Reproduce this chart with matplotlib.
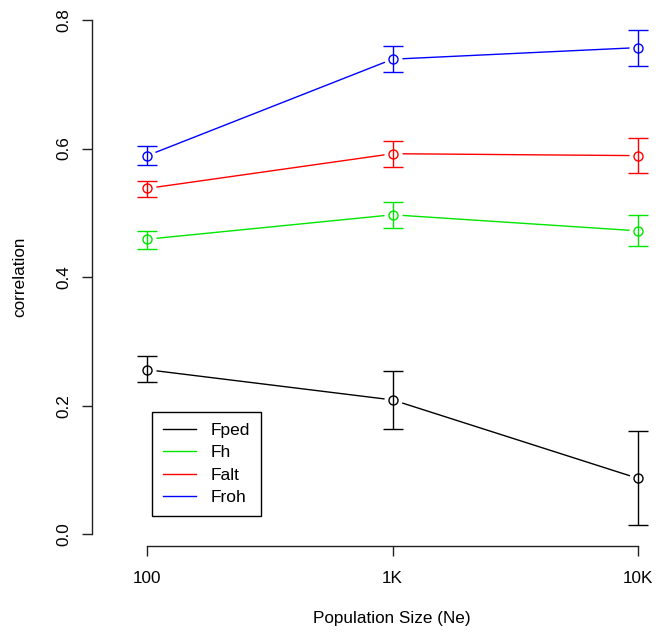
import matplotlib
matplotlib.use('Agg')
import matplotlib.pyplot as plt

plt.rcParams['font.family'] = ['Liberation Sans', 'DejaVu Sans']

# data
sizes = ['100', '1K', '10K']
series = ['Fped', 'Fh', 'Falt', 'Froh']
colors = ['black', '#00e600', 'red', 'blue']

fped = [0.256, 0.209, 0.087]
fped_lo = [0.237, 0.164, 0.014]
fped_hi = [0.277, 0.254, 0.161]

fh = [0.459, 0.497, 0.472]
fh_lo = [0.444, 0.477, 0.448]
fh_hi = [0.472, 0.517, 0.496]

falt = [0.538, 0.592, 0.589]
falt_lo = [0.525, 0.572, 0.562]
falt_hi = [0.550, 0.612, 0.617]

froh = [0.589, 0.739, 0.757]
froh_lo = [0.575, 0.719, 0.729]
froh_hi = [0.604, 0.759, 0.784]

means = [fped, fh, falt, froh]
lows = [fped_lo, fh_lo, falt_lo, froh_lo]
highs = [fped_hi, fh_hi, falt_hi, froh_hi]

W, H = 666, 632
fig = plt.figure(figsize=(W / 100, H / 100), dpi=100)
# axes box in pixels: left 92, bottom line at y=546, top at y=8, right at 660
ax = fig.add_axes([92 / W, 1 - 546 / H, (660 - 92) / W, (546 - 8) / H])

x = [1, 2, 3]
ax.set_xlim(1 - (147.3 - 92) / 245.5, 3 + (660 - 638) / 245.5)
ax.set_ylim((534.3 - 546) / 642.9, (534.3 - 8) / 642.9)

for name, m, lo, hi, c in zip(series, means, lows, highs, colors):
    ax.plot(x, m, color=c, lw=1, zorder=1, label=name)
    # white halo leaves the gap R's type="b" puts around each point
    ax.plot(x, m, ls='none', marker='o', ms=12, mfc='white', mec='white', zorder=2)
    ax.plot(x, m, ls='none', marker='o', ms=6.5, mfc='none', mec=c, mew=1, zorder=3)
    ax.errorbar(x, m, yerr=[[a - b for a, b in zip(m, lo)], [b - a for a, b in zip(m, hi)]],
                fmt='none', ecolor=c, elinewidth=1, capsize=7.2, capthick=1, zorder=4)

for s in ['top', 'right']:
    ax.spines[s].set_visible(False)
ax.spines['left'].set_bounds(0, 0.8)
ax.spines['bottom'].set_bounds(1, 3)
for s in ['left', 'bottom']:
    ax.spines[s].set_linewidth(1)
    ax.spines[s].set_color('#222222')

ax.set_xticks(x)
ax.set_xticklabels(sizes)
ax.set_yticks([0.0, 0.2, 0.4, 0.6, 0.8])
ax.set_yticklabels(['0.0', '0.2', '0.4', '0.6', '0.8'], rotation=90, va='center')
ax.tick_params(axis='both', length=7.2, width=1, color='#222222', labelsize=12.3)
ax.tick_params(axis='x', pad=11)
ax.tick_params(axis='y', pad=8)

fig.text(20 / W, 1 - 277 / H, 'correlation', rotation=90, ha='center', va='center', fontsize=12.3)
fig.text(392 / W, 1 - 619 / H, 'Population Size (Ne)', ha='center', va='center', fontsize=12.3)

leg = ax.legend(loc='upper left', bbox_to_anchor=(152.3 / W, 1 - 411.7 / H),
                bbox_transform=fig.transFigure, borderaxespad=0, fontsize=12.5,
                handlelength=1.85, handletextpad=0.85, labelspacing=0.42,
                borderpad=0.64, fancybox=False, framealpha=1)
leg.get_frame().set_edgecolor('black')
leg.get_frame().set_linewidth(1)

fig.savefig('out.png', dpi=100)
